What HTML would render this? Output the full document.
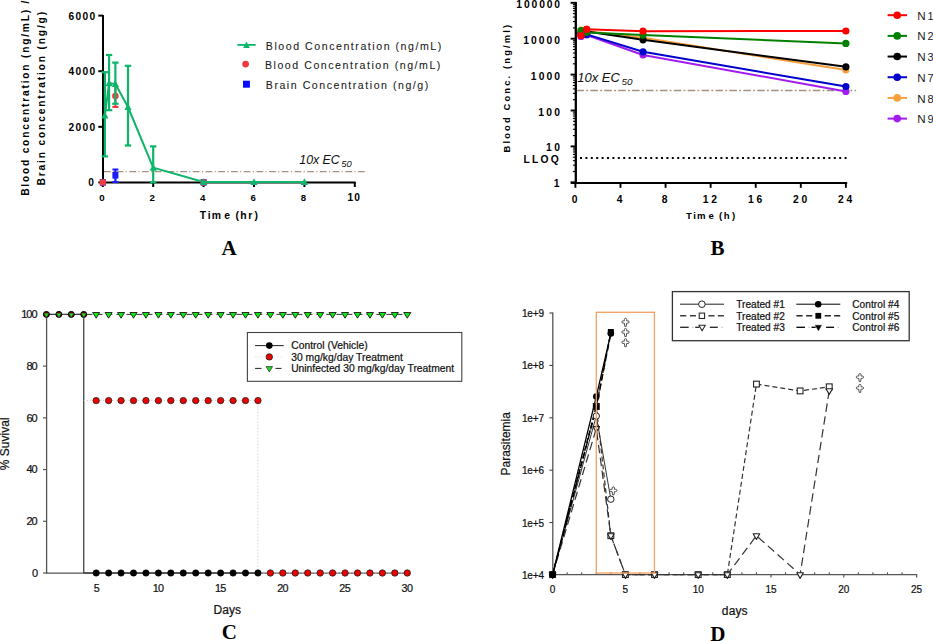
<!DOCTYPE html>
<html><head><meta charset="utf-8"><style>
html,body{margin:0;padding:0;background:#fff;overflow:hidden}
svg{display:block}
</style></head><body>
<svg width="933" height="641" viewBox="0 0 933 641">
<rect width="933" height="641" fill="#fff"/>
<line x1="104" y1="171.6" x2="365" y2="171.6" stroke="#a4917f" stroke-width="1.2" stroke-dasharray="6.7,2.4,1.1,2.5"/>
<line x1="103" y1="15" x2="103" y2="183.4" stroke="#000" stroke-width="2" />
<line x1="102" y1="182.6" x2="355.6" y2="182.6" stroke="#000" stroke-width="2" />
<line x1="98.3" y1="182.4" x2="103" y2="182.4" stroke="#000" stroke-width="2" />
<line x1="98.3" y1="126.80000000000001" x2="103" y2="126.80000000000001" stroke="#000" stroke-width="2" />
<line x1="98.3" y1="71.2" x2="103" y2="71.2" stroke="#000" stroke-width="2" />
<line x1="98.3" y1="15.599999999999994" x2="103" y2="15.599999999999994" stroke="#000" stroke-width="2" />
<line x1="102.8" y1="182" x2="102.8" y2="187" stroke="#000" stroke-width="2" />
<line x1="153.2" y1="182" x2="153.2" y2="187" stroke="#000" stroke-width="2" />
<line x1="203.6" y1="182" x2="203.6" y2="187" stroke="#000" stroke-width="2" />
<line x1="254.0" y1="182" x2="254.0" y2="187" stroke="#000" stroke-width="2" />
<line x1="304.4" y1="182" x2="304.4" y2="187" stroke="#000" stroke-width="2" />
<line x1="354.8" y1="182" x2="354.8" y2="187" stroke="#000" stroke-width="2" />
<text x="68.6" y="19.599999999999994" font-family='"Liberation Sans", sans-serif' font-size="10.2" font-weight="bold" font-style="normal" fill="#000" text-anchor="start" textLength="26.6" lengthAdjust="spacing" >6000</text>
<text x="68.6" y="75.2" font-family='"Liberation Sans", sans-serif' font-size="10.2" font-weight="bold" font-style="normal" fill="#000" text-anchor="start" textLength="26.6" lengthAdjust="spacing" >4000</text>
<text x="68.6" y="130.8" font-family='"Liberation Sans", sans-serif' font-size="10.2" font-weight="bold" font-style="normal" fill="#000" text-anchor="start" textLength="26.6" lengthAdjust="spacing" >2000</text>
<text x="88.3" y="186.4" font-family='"Liberation Sans", sans-serif' font-size="10.2" font-weight="bold" font-style="normal" fill="#000" text-anchor="start" >0</text>
<text x="101.89999999999999" y="201.0" font-family='"Liberation Sans", sans-serif' font-size="9.7" font-weight="bold" font-style="normal" fill="#000" text-anchor="middle" >0</text>
<text x="152.29999999999998" y="201.0" font-family='"Liberation Sans", sans-serif' font-size="9.7" font-weight="bold" font-style="normal" fill="#000" text-anchor="middle" >2</text>
<text x="202.7" y="201.0" font-family='"Liberation Sans", sans-serif' font-size="9.7" font-weight="bold" font-style="normal" fill="#000" text-anchor="middle" >4</text>
<text x="253.1" y="201.0" font-family='"Liberation Sans", sans-serif' font-size="9.7" font-weight="bold" font-style="normal" fill="#000" text-anchor="middle" >6</text>
<text x="303.5" y="201.0" font-family='"Liberation Sans", sans-serif' font-size="9.7" font-weight="bold" font-style="normal" fill="#000" text-anchor="middle" >8</text>
<text x="347.5" y="201.4" font-family='"Liberation Sans", sans-serif' font-size="10.2" font-weight="bold" font-style="normal" fill="#000" text-anchor="start" textLength="12.5" lengthAdjust="spacing" >10</text>
<text x="199.80 207.77 211.72 224.18 235.58 240.17 248.32 254.55" y="218.9" font-family='"Liberation Sans", sans-serif' font-size="10.4" font-weight="bold" fill="#000">Time(hr)</text>
<text x="28.6" y="195.8" font-family='"Liberation Sans", sans-serif' font-size="10.2" font-weight="bold" font-style="normal" fill="#000" text-anchor="start" textLength="195.2" lengthAdjust="spacing" transform="rotate(-90 28.6 195.8)" >Blood concentration (ng/mL) /</text>
<text x="44.8" y="185.4" font-family='"Liberation Sans", sans-serif' font-size="10.2" font-weight="bold" font-style="normal" fill="#000" text-anchor="start" textLength="173.5" lengthAdjust="spacing" transform="rotate(-90 44.8 185.4)" >Brain concentration (ng/g)</text>
<line x1="115.39999999999999" y1="86" x2="115.39999999999999" y2="107" stroke="#f03c3c" stroke-width="2" />
<line x1="112.39999999999999" y1="107" x2="118.39999999999999" y2="107" stroke="#f03c3c" stroke-width="2" />
<line x1="115.39999999999999" y1="169.3" x2="115.39999999999999" y2="182.4" stroke="#1a1aff" stroke-width="2.2" />
<line x1="112.39999999999999" y1="169.5" x2="118.39999999999999" y2="169.5" stroke="#1a1aff" stroke-width="2" />
<line x1="112.39999999999999" y1="182" x2="118.39999999999999" y2="182" stroke="#1a1aff" stroke-width="2" />
<rect x="99.80" y="179.10" width="6.00" height="6.60" fill="#1a1aff" stroke="none" stroke-width="0"/>
<rect x="112.40" y="172.00" width="6.00" height="6.60" fill="#1a1aff" stroke="none" stroke-width="0"/>
<rect x="200.60" y="179.10" width="6.00" height="6.60" fill="#1a1aff" stroke="none" stroke-width="0"/>
<circle cx="102.80" cy="182.40" r="3.3" fill="#f03c3c" stroke="none" stroke-width="0"/>
<circle cx="115.40" cy="96.00" r="3.3" fill="#f03c3c" stroke="none" stroke-width="0"/>
<circle cx="203.60" cy="182.40" r="3.3" fill="#f03c3c" stroke="none" stroke-width="0"/>
<line x1="104.8916" y1="72.2" x2="104.8916" y2="156.4" stroke="#0db56a" stroke-width="2.2" />
<line x1="101.6916" y1="72.2" x2="108.0916" y2="72.2" stroke="#0db56a" stroke-width="2.2" />
<line x1="101.6916" y1="156.4" x2="108.0916" y2="156.4" stroke="#0db56a" stroke-width="2.2" />
<line x1="109.1" y1="55" x2="109.1" y2="110.2" stroke="#0db56a" stroke-width="2.2" />
<line x1="105.89999999999999" y1="55" x2="112.3" y2="55" stroke="#0db56a" stroke-width="2.2" />
<line x1="105.89999999999999" y1="110.2" x2="112.3" y2="110.2" stroke="#0db56a" stroke-width="2.2" />
<line x1="115.39999999999999" y1="62.6" x2="115.39999999999999" y2="103.7" stroke="#0db56a" stroke-width="2.2" />
<line x1="112.19999999999999" y1="62.6" x2="118.6" y2="62.6" stroke="#0db56a" stroke-width="2.2" />
<line x1="112.19999999999999" y1="103.7" x2="118.6" y2="103.7" stroke="#0db56a" stroke-width="2.2" />
<line x1="128.0" y1="65.8" x2="128.0" y2="145.5" stroke="#0db56a" stroke-width="2.2" />
<line x1="124.8" y1="65.8" x2="131.2" y2="65.8" stroke="#0db56a" stroke-width="2.2" />
<line x1="124.8" y1="145.5" x2="131.2" y2="145.5" stroke="#0db56a" stroke-width="2.2" />
<line x1="153.2" y1="146.4" x2="153.2" y2="182.4" stroke="#0db56a" stroke-width="2.2" />
<line x1="150.0" y1="146.4" x2="156.39999999999998" y2="146.4" stroke="#0db56a" stroke-width="2.2" />
<line x1="150.0" y1="182.4" x2="156.39999999999998" y2="182.4" stroke="#0db56a" stroke-width="2.2" />
<polyline points="104.89,115.30 109.10,83.20 115.40,84.00 128.00,107.00 153.20,167.60 203.60,182.00 254.00,182.00 304.40,182.00" fill="none" stroke="#0db56a" stroke-width="2.0" stroke-linejoin="round" />
<polygon points="104.89,111.54 108.49,118.38 101.29,118.38" fill="#0db56a" stroke="none" stroke-width="0" stroke-linejoin="round"/>
<polygon points="109.10,79.44 112.70,86.28 105.50,86.28" fill="#0db56a" stroke="none" stroke-width="0" stroke-linejoin="round"/>
<polygon points="115.40,80.24 119.00,87.08 111.80,87.08" fill="#0db56a" stroke="none" stroke-width="0" stroke-linejoin="round"/>
<polygon points="128.00,103.24 131.60,110.08 124.40,110.08" fill="#0db56a" stroke="none" stroke-width="0" stroke-linejoin="round"/>
<polygon points="153.20,163.84 156.80,170.68 149.60,170.68" fill="#0db56a" stroke="none" stroke-width="0" stroke-linejoin="round"/>
<polygon points="203.60,178.24 207.20,185.08 200.00,185.08" fill="#0db56a" stroke="none" stroke-width="0" stroke-linejoin="round"/>
<polygon points="254.00,178.24 257.60,185.08 250.40,185.08" fill="#0db56a" stroke="none" stroke-width="0" stroke-linejoin="round"/>
<polygon points="304.40,178.24 308.00,185.08 300.80,185.08" fill="#0db56a" stroke="none" stroke-width="0" stroke-linejoin="round"/>
<text font-family='"Liberation Sans", sans-serif' font-style="italic" fill="#111"><tspan x="299.3" y="163.8" font-size="12.4">10x</tspan><tspan x="322.6" y="163.8" font-size="12.4">EC</tspan><tspan x="341.3" y="166.6" font-size="9.4">50</tspan></text>
<line x1="237.4" y1="44.9" x2="255.7" y2="44.9" stroke="#0db56a" stroke-width="1.8" />
<polygon points="246.50,41.60 249.85,47.96 243.15,47.96" fill="#0db56a" stroke="none" stroke-width="0" stroke-linejoin="round"/>
<circle cx="245.60" cy="64.10" r="3.4" fill="#f23a3a" stroke="none" stroke-width="0"/>
<rect x="243.00" y="80.70" width="6.90" height="7.00" fill="#0a0aff" stroke="none" stroke-width="0"/>
<text x="265.8" y="49.7" font-family='"Liberation Sans", sans-serif' font-size="10.6" font-weight="normal" font-style="normal" fill="#1a1a1a" text-anchor="start" textLength="175.5" lengthAdjust="spacing"  stroke="#1a1a1a" stroke-width="0.08">Blood Concentration (ng/mL)</text>
<text x="264.9" y="69.1" font-family='"Liberation Sans", sans-serif' font-size="10.6" font-weight="normal" font-style="normal" fill="#1a1a1a" text-anchor="start" textLength="175.5" lengthAdjust="spacing"  stroke="#1a1a1a" stroke-width="0.08">Blood Concentration (ng/mL)</text>
<text x="265.8" y="89.1" font-family='"Liberation Sans", sans-serif' font-size="10.6" font-weight="normal" font-style="normal" fill="#1a1a1a" text-anchor="start" textLength="162.5" lengthAdjust="spacing"  stroke="#1a1a1a" stroke-width="0.08">Brain Concentration (ng/g)</text>
<text x="221.6" y="254.7" font-family='"Liberation Serif", serif' font-size="21" font-weight="bold" font-style="normal" fill="#000" text-anchor="start" >A</text>
<line x1="576.5" y1="90.5" x2="856" y2="90.5" stroke="#a4917f" stroke-width="1.3" stroke-dasharray="7.5,2.3,1.8,2.3"/>
<line x1="580.0" y1="158.0" x2="846.5" y2="158.0" stroke="#000" stroke-width="2" stroke-dasharray="2,3.4"/>
<line x1="575.8" y1="2" x2="575.8" y2="183.9" stroke="#000" stroke-width="2.3" />
<line x1="570.8" y1="182.9" x2="847.2" y2="182.9" stroke="#000" stroke-width="2.0" />
<line x1="570.6" y1="182.3" x2="576" y2="182.3" stroke="#000" stroke-width="1.9" />
<line x1="572.9" y1="171.49302315566308" x2="576" y2="171.49302315566308" stroke="#000" stroke-width="1.1" />
<line x1="572.9" y1="165.17134695556413" x2="576" y2="165.17134695556413" stroke="#000" stroke-width="1.1" />
<line x1="572.9" y1="160.68604631132615" x2="576" y2="160.68604631132615" stroke="#000" stroke-width="1.1" />
<line x1="572.9" y1="157.20697684433694" x2="576" y2="157.20697684433694" stroke="#000" stroke-width="1.1" />
<line x1="572.9" y1="154.3643701112272" x2="576" y2="154.3643701112272" stroke="#000" stroke-width="1.1" />
<line x1="572.9" y1="151.9609803634882" x2="576" y2="151.9609803634882" stroke="#000" stroke-width="1.1" />
<line x1="572.9" y1="149.87906946698925" x2="576" y2="149.87906946698925" stroke="#000" stroke-width="1.1" />
<line x1="572.9" y1="148.04269391112825" x2="576" y2="148.04269391112825" stroke="#000" stroke-width="1.1" />
<line x1="570.6" y1="146.4" x2="576" y2="146.4" stroke="#000" stroke-width="1.9" />
<line x1="572.9" y1="135.59302315566308" x2="576" y2="135.59302315566308" stroke="#000" stroke-width="1.1" />
<line x1="572.9" y1="129.27134695556413" x2="576" y2="129.27134695556413" stroke="#000" stroke-width="1.1" />
<line x1="572.9" y1="124.78604631132616" x2="576" y2="124.78604631132616" stroke="#000" stroke-width="1.1" />
<line x1="572.9" y1="121.30697684433694" x2="576" y2="121.30697684433694" stroke="#000" stroke-width="1.1" />
<line x1="572.9" y1="118.4643701112272" x2="576" y2="118.4643701112272" stroke="#000" stroke-width="1.1" />
<line x1="572.9" y1="116.06098036348818" x2="576" y2="116.06098036348818" stroke="#000" stroke-width="1.1" />
<line x1="572.9" y1="113.97906946698924" x2="576" y2="113.97906946698924" stroke="#000" stroke-width="1.1" />
<line x1="572.9" y1="112.14269391112826" x2="576" y2="112.14269391112826" stroke="#000" stroke-width="1.1" />
<line x1="570.6" y1="110.50000000000001" x2="576" y2="110.50000000000001" stroke="#000" stroke-width="1.9" />
<line x1="572.9" y1="99.69302315566308" x2="576" y2="99.69302315566308" stroke="#000" stroke-width="1.1" />
<line x1="572.9" y1="93.37134695556412" x2="576" y2="93.37134695556412" stroke="#000" stroke-width="1.1" />
<line x1="572.9" y1="88.88604631132615" x2="576" y2="88.88604631132615" stroke="#000" stroke-width="1.1" />
<line x1="572.9" y1="85.40697684433694" x2="576" y2="85.40697684433694" stroke="#000" stroke-width="1.1" />
<line x1="572.9" y1="82.5643701112272" x2="576" y2="82.5643701112272" stroke="#000" stroke-width="1.1" />
<line x1="572.9" y1="80.16098036348819" x2="576" y2="80.16098036348819" stroke="#000" stroke-width="1.1" />
<line x1="572.9" y1="78.07906946698924" x2="576" y2="78.07906946698924" stroke="#000" stroke-width="1.1" />
<line x1="572.9" y1="76.24269391112826" x2="576" y2="76.24269391112826" stroke="#000" stroke-width="1.1" />
<line x1="570.6" y1="74.60000000000002" x2="576" y2="74.60000000000002" stroke="#000" stroke-width="1.9" />
<line x1="572.9" y1="63.79302315566309" x2="576" y2="63.79302315566309" stroke="#000" stroke-width="1.1" />
<line x1="572.9" y1="57.47134695556413" x2="576" y2="57.47134695556413" stroke="#000" stroke-width="1.1" />
<line x1="572.9" y1="52.98604631132616" x2="576" y2="52.98604631132616" stroke="#000" stroke-width="1.1" />
<line x1="572.9" y1="49.50697684433695" x2="576" y2="49.50697684433695" stroke="#000" stroke-width="1.1" />
<line x1="572.9" y1="46.664370111227214" x2="576" y2="46.664370111227214" stroke="#000" stroke-width="1.1" />
<line x1="572.9" y1="44.26098036348819" x2="576" y2="44.26098036348819" stroke="#000" stroke-width="1.1" />
<line x1="572.9" y1="42.17906946698923" x2="576" y2="42.17906946698923" stroke="#000" stroke-width="1.1" />
<line x1="572.9" y1="40.342693911128265" x2="576" y2="40.342693911128265" stroke="#000" stroke-width="1.1" />
<line x1="570.6" y1="38.70000000000002" x2="576" y2="38.70000000000002" stroke="#000" stroke-width="1.9" />
<line x1="572.9" y1="27.893023155663087" x2="576" y2="27.893023155663087" stroke="#000" stroke-width="1.1" />
<line x1="572.9" y1="21.571346955564138" x2="576" y2="21.571346955564138" stroke="#000" stroke-width="1.1" />
<line x1="572.9" y1="17.086046311326157" x2="576" y2="17.086046311326157" stroke="#000" stroke-width="1.1" />
<line x1="572.9" y1="13.606976844336941" x2="576" y2="13.606976844336941" stroke="#000" stroke-width="1.1" />
<line x1="572.9" y1="10.764370111227208" x2="576" y2="10.764370111227208" stroke="#000" stroke-width="1.1" />
<line x1="572.9" y1="8.360980363488181" x2="576" y2="8.360980363488181" stroke="#000" stroke-width="1.1" />
<line x1="572.9" y1="6.2790694669892275" x2="576" y2="6.2790694669892275" stroke="#000" stroke-width="1.1" />
<line x1="572.9" y1="4.442693911128231" x2="576" y2="4.442693911128231" stroke="#000" stroke-width="1.1" />
<line x1="570.6" y1="2.8000000000000114" x2="576" y2="2.8000000000000114" stroke="#000" stroke-width="1.9" />
<line x1="575.4" y1="182" x2="575.4" y2="187.8" stroke="#000" stroke-width="1.9" />
<line x1="620.48" y1="182" x2="620.48" y2="187.8" stroke="#000" stroke-width="1.9" />
<line x1="665.56" y1="182" x2="665.56" y2="187.8" stroke="#000" stroke-width="1.9" />
<line x1="710.64" y1="182" x2="710.64" y2="187.8" stroke="#000" stroke-width="1.9" />
<line x1="755.72" y1="182" x2="755.72" y2="187.8" stroke="#000" stroke-width="1.9" />
<line x1="800.8" y1="182" x2="800.8" y2="187.8" stroke="#000" stroke-width="1.9" />
<line x1="845.88" y1="182" x2="845.88" y2="187.8" stroke="#000" stroke-width="1.9" />
<text x="553.77" y="187.3" font-family='"Liberation Sans", sans-serif' font-size="10.3" font-weight="bold" font-style="normal" fill="#000" text-anchor="start" >1</text>
<text x="546.05" y="151.4" font-family='"Liberation Sans", sans-serif' font-size="10.3" font-weight="bold" font-style="normal" fill="#000" text-anchor="start" textLength="14.0" lengthAdjust="spacing" >10</text>
<text x="538.35" y="115.50000000000001" font-family='"Liberation Sans", sans-serif' font-size="10.3" font-weight="bold" font-style="normal" fill="#000" text-anchor="start" textLength="21.7" lengthAdjust="spacing" >100</text>
<text x="530.85" y="79.60000000000002" font-family='"Liberation Sans", sans-serif' font-size="10.3" font-weight="bold" font-style="normal" fill="#000" text-anchor="start" textLength="29.2" lengthAdjust="spacing" >1000</text>
<text x="523.15" y="43.70000000000002" font-family='"Liberation Sans", sans-serif' font-size="10.3" font-weight="bold" font-style="normal" fill="#000" text-anchor="start" textLength="36.9" lengthAdjust="spacing" >10000</text>
<text x="516.35" y="7.800000000000011" font-family='"Liberation Sans", sans-serif' font-size="10.3" font-weight="bold" font-style="normal" fill="#000" text-anchor="start" textLength="43.699999999999996" lengthAdjust="spacing" >100000</text>
<text x="523.4" y="162.6" font-family='"Liberation Sans", sans-serif' font-size="10.3" font-weight="bold" font-style="normal" fill="#000" text-anchor="start" textLength="35.3" lengthAdjust="spacing" >LLOQ</text>
<text x="574.5" y="203.3" font-family='"Liberation Sans", sans-serif' font-size="10.3" font-weight="bold" font-style="normal" fill="#000" text-anchor="middle" >0</text>
<text x="619.58" y="203.3" font-family='"Liberation Sans", sans-serif' font-size="10.3" font-weight="bold" font-style="normal" fill="#000" text-anchor="middle" >4</text>
<text x="664.66" y="203.3" font-family='"Liberation Sans", sans-serif' font-size="10.3" font-weight="bold" font-style="normal" fill="#000" text-anchor="middle" >8</text>
<text x="702.84" y="203.3" font-family='"Liberation Sans", sans-serif' font-size="10.3" font-weight="bold" font-style="normal" fill="#000" text-anchor="start" textLength="14.2" lengthAdjust="spacing" >12</text>
<text x="747.9200000000001" y="203.3" font-family='"Liberation Sans", sans-serif' font-size="10.3" font-weight="bold" font-style="normal" fill="#000" text-anchor="start" textLength="14.2" lengthAdjust="spacing" >16</text>
<text x="793.0" y="203.3" font-family='"Liberation Sans", sans-serif' font-size="10.3" font-weight="bold" font-style="normal" fill="#000" text-anchor="start" textLength="14.2" lengthAdjust="spacing" >20</text>
<text x="838.08" y="203.3" font-family='"Liberation Sans", sans-serif' font-size="10.3" font-weight="bold" font-style="normal" fill="#000" text-anchor="start" textLength="14.2" lengthAdjust="spacing" >24</text>
<text x="685.90 693.13 696.88 708.62 719.12 723.63 731.95" y="219.0" font-family='"Liberation Sans", sans-serif' font-size="9.6" font-weight="bold" fill="#000">Time(h)</text>
<text x="510.3" y="152.4" font-family='"Liberation Sans", sans-serif' font-size="9.4" font-weight="bold" font-style="normal" fill="#000" text-anchor="start" textLength="127.5" lengthAdjust="spacing" transform="rotate(-90 510.3 152.4)" >Blood Conc. (ng/ml)</text>
<text font-family='"Liberation Sans", sans-serif' font-style="italic" fill="#111"><tspan x="577.2" y="81.6" font-size="13">10x</tspan><tspan x="601.8" y="81.6" font-size="13">EC</tspan><tspan x="621.6" y="84.6" font-size="9.9">50</tspan></text>
<polyline points="581.03,36.40 586.67,35.00 643.02,55.00 845.88,91.40" fill="none" stroke="#a21cf0" stroke-width="2" stroke-linejoin="round" />
<polyline points="581.03,34.00 586.67,34.40 643.02,51.80 845.88,86.50" fill="none" stroke="#0000cc" stroke-width="2" stroke-linejoin="round" />
<polyline points="581.03,30.00 586.67,31.00 643.02,37.70 845.88,70.00" fill="none" stroke="#f5a03c" stroke-width="2" stroke-linejoin="round" />
<polyline points="581.03,32.50 586.67,31.50 643.02,39.80 845.88,66.80" fill="none" stroke="#000000" stroke-width="2" stroke-linejoin="round" />
<polyline points="581.03,30.60 586.67,32.50 643.02,35.10 845.88,43.40" fill="none" stroke="#008000" stroke-width="2" stroke-linejoin="round" />
<polyline points="581.03,35.50 586.67,29.30 643.02,31.20 845.88,31.00" fill="none" stroke="#ff0000" stroke-width="2" stroke-linejoin="round" />
<circle cx="581.03" cy="36.40" r="3.6" fill="#a21cf0" stroke="none" stroke-width="0"/>
<circle cx="586.67" cy="35.00" r="3.6" fill="#a21cf0" stroke="none" stroke-width="0"/>
<circle cx="643.02" cy="55.00" r="3.6" fill="#a21cf0" stroke="none" stroke-width="0"/>
<circle cx="845.88" cy="91.40" r="3.6" fill="#a21cf0" stroke="none" stroke-width="0"/>
<circle cx="581.03" cy="34.00" r="3.6" fill="#0000cc" stroke="none" stroke-width="0"/>
<circle cx="586.67" cy="34.40" r="3.6" fill="#0000cc" stroke="none" stroke-width="0"/>
<circle cx="643.02" cy="51.80" r="3.6" fill="#0000cc" stroke="none" stroke-width="0"/>
<circle cx="845.88" cy="86.50" r="3.6" fill="#0000cc" stroke="none" stroke-width="0"/>
<circle cx="581.03" cy="30.00" r="3.6" fill="#f5a03c" stroke="none" stroke-width="0"/>
<circle cx="586.67" cy="31.00" r="3.6" fill="#f5a03c" stroke="none" stroke-width="0"/>
<circle cx="643.02" cy="37.70" r="3.6" fill="#f5a03c" stroke="none" stroke-width="0"/>
<circle cx="845.88" cy="70.00" r="3.6" fill="#f5a03c" stroke="none" stroke-width="0"/>
<circle cx="581.03" cy="32.50" r="3.6" fill="#000000" stroke="none" stroke-width="0"/>
<circle cx="586.67" cy="31.50" r="3.6" fill="#000000" stroke="none" stroke-width="0"/>
<circle cx="643.02" cy="39.80" r="3.6" fill="#000000" stroke="none" stroke-width="0"/>
<circle cx="845.88" cy="66.80" r="3.6" fill="#000000" stroke="none" stroke-width="0"/>
<circle cx="581.03" cy="30.60" r="3.6" fill="#008000" stroke="none" stroke-width="0"/>
<circle cx="586.67" cy="32.50" r="3.6" fill="#008000" stroke="none" stroke-width="0"/>
<circle cx="643.02" cy="35.10" r="3.6" fill="#008000" stroke="none" stroke-width="0"/>
<circle cx="845.88" cy="43.40" r="3.6" fill="#008000" stroke="none" stroke-width="0"/>
<circle cx="581.03" cy="35.50" r="3.6" fill="#ff0000" stroke="none" stroke-width="0"/>
<circle cx="586.67" cy="29.30" r="3.6" fill="#ff0000" stroke="none" stroke-width="0"/>
<circle cx="643.02" cy="31.20" r="3.6" fill="#ff0000" stroke="none" stroke-width="0"/>
<circle cx="845.88" cy="31.00" r="3.6" fill="#ff0000" stroke="none" stroke-width="0"/>
<circle cx="581.03" cy="35.50" r="3.6" fill="#ff0000" stroke="none" stroke-width="0"/>
<circle cx="586.67" cy="29.30" r="3.6" fill="#ff0000" stroke="none" stroke-width="0"/>
<line x1="887.6" y1="15.2" x2="907" y2="15.2" stroke="#ff0000" stroke-width="2" />
<circle cx="897.20" cy="15.20" r="3.8" fill="#ff0000" stroke="none" stroke-width="0"/>
<text y="19.80" font-family='"Liberation Sans", sans-serif' font-size="11" fill="#1a1a1a"><tspan x="917.2" font-size="11.6">N</tspan><tspan x="927.4">1</tspan></text>
<line x1="887.6" y1="35.879999999999995" x2="907" y2="35.879999999999995" stroke="#008000" stroke-width="2" />
<circle cx="897.20" cy="35.88" r="3.8" fill="#008000" stroke="none" stroke-width="0"/>
<text y="40.48" font-family='"Liberation Sans", sans-serif' font-size="11" fill="#1a1a1a"><tspan x="917.2" font-size="11.6">N</tspan><tspan x="927.4">2</tspan></text>
<line x1="887.6" y1="56.56" x2="907" y2="56.56" stroke="#000000" stroke-width="2" />
<circle cx="897.20" cy="56.56" r="3.8" fill="#000000" stroke="none" stroke-width="0"/>
<text y="61.16" font-family='"Liberation Sans", sans-serif' font-size="11" fill="#1a1a1a"><tspan x="917.2" font-size="11.6">N</tspan><tspan x="927.4">3</tspan></text>
<line x1="887.6" y1="77.24" x2="907" y2="77.24" stroke="#0000cc" stroke-width="2" />
<circle cx="897.20" cy="77.24" r="3.8" fill="#0000cc" stroke="none" stroke-width="0"/>
<text y="81.84" font-family='"Liberation Sans", sans-serif' font-size="11" fill="#1a1a1a"><tspan x="917.2" font-size="11.6">N</tspan><tspan x="927.4">7</tspan></text>
<line x1="887.6" y1="97.92" x2="907" y2="97.92" stroke="#f5a03c" stroke-width="2" />
<circle cx="897.20" cy="97.92" r="3.8" fill="#f5a03c" stroke="none" stroke-width="0"/>
<text y="102.52" font-family='"Liberation Sans", sans-serif' font-size="11" fill="#1a1a1a"><tspan x="917.2" font-size="11.6">N</tspan><tspan x="927.4">8</tspan></text>
<line x1="887.6" y1="118.60000000000001" x2="907" y2="118.60000000000001" stroke="#a21cf0" stroke-width="2" />
<circle cx="897.20" cy="118.60" r="3.8" fill="#a21cf0" stroke="none" stroke-width="0"/>
<text y="123.20" font-family='"Liberation Sans", sans-serif' font-size="11" fill="#1a1a1a"><tspan x="917.2" font-size="11.6">N</tspan><tspan x="927.4">9</tspan></text>
<text x="710.6" y="254.9" font-family='"Liberation Serif", serif' font-size="21" font-weight="bold" font-style="normal" fill="#000" text-anchor="start" >B</text>
<line x1="46.6" y1="314" x2="46.6" y2="573.5" stroke="#555" stroke-width="1.3" />
<line x1="46" y1="573.2" x2="407.6" y2="573.2" stroke="#555" stroke-width="1.3" />
<line x1="43" y1="573.0" x2="46.6" y2="573.0" stroke="#555" stroke-width="1.2" />
<text x="32.0" y="576.9" font-family='"Liberation Sans", sans-serif' font-size="11" font-weight="normal" font-style="normal" fill="#111" text-anchor="start" textLength="5.6" lengthAdjust="spacing"  stroke="#111" stroke-width="0.22">0</text>
<line x1="43" y1="521.28" x2="46.6" y2="521.28" stroke="#555" stroke-width="1.2" />
<text x="26.5" y="525.18" font-family='"Liberation Sans", sans-serif' font-size="11" font-weight="normal" font-style="normal" fill="#111" text-anchor="start" textLength="11.1" lengthAdjust="spacing"  stroke="#111" stroke-width="0.22">20</text>
<line x1="43" y1="469.56" x2="46.6" y2="469.56" stroke="#555" stroke-width="1.2" />
<text x="26.5" y="473.46" font-family='"Liberation Sans", sans-serif' font-size="11" font-weight="normal" font-style="normal" fill="#111" text-anchor="start" textLength="11.1" lengthAdjust="spacing"  stroke="#111" stroke-width="0.22">40</text>
<line x1="43" y1="417.84000000000003" x2="46.6" y2="417.84000000000003" stroke="#555" stroke-width="1.2" />
<text x="26.5" y="421.74" font-family='"Liberation Sans", sans-serif' font-size="11" font-weight="normal" font-style="normal" fill="#111" text-anchor="start" textLength="11.1" lengthAdjust="spacing"  stroke="#111" stroke-width="0.22">60</text>
<line x1="43" y1="366.12" x2="46.6" y2="366.12" stroke="#555" stroke-width="1.2" />
<text x="26.5" y="370.02" font-family='"Liberation Sans", sans-serif' font-size="11" font-weight="normal" font-style="normal" fill="#111" text-anchor="start" textLength="11.1" lengthAdjust="spacing"  stroke="#111" stroke-width="0.22">80</text>
<line x1="43" y1="314.40000000000003" x2="46.6" y2="314.40000000000003" stroke="#555" stroke-width="1.2" />
<text x="21.200000000000003" y="318.3" font-family='"Liberation Sans", sans-serif' font-size="11" font-weight="normal" font-style="normal" fill="#111" text-anchor="start" textLength="16.4" lengthAdjust="spacing"  stroke="#111" stroke-width="0.22">100</text>
<text x="93.626" y="591.7" font-family='"Liberation Sans", sans-serif' font-size="10.8" font-weight="normal" font-style="normal" fill="#111" text-anchor="start" textLength="5.7" lengthAdjust="spacing"  stroke="#111" stroke-width="0.22">5</text>
<text x="152.69600000000003" y="591.7" font-family='"Liberation Sans", sans-serif' font-size="10.8" font-weight="normal" font-style="normal" fill="#111" text-anchor="start" textLength="11.4" lengthAdjust="spacing"  stroke="#111" stroke-width="0.22">10</text>
<text x="214.91600000000003" y="591.7" font-family='"Liberation Sans", sans-serif' font-size="10.8" font-weight="normal" font-style="normal" fill="#111" text-anchor="start" textLength="11.4" lengthAdjust="spacing"  stroke="#111" stroke-width="0.22">15</text>
<text x="277.136" y="591.7" font-family='"Liberation Sans", sans-serif' font-size="10.8" font-weight="normal" font-style="normal" fill="#111" text-anchor="start" textLength="11.4" lengthAdjust="spacing"  stroke="#111" stroke-width="0.22">20</text>
<text x="339.356" y="591.7" font-family='"Liberation Sans", sans-serif' font-size="10.8" font-weight="normal" font-style="normal" fill="#111" text-anchor="start" textLength="11.4" lengthAdjust="spacing"  stroke="#111" stroke-width="0.22">25</text>
<text x="401.576" y="591.7" font-family='"Liberation Sans", sans-serif' font-size="10.8" font-weight="normal" font-style="normal" fill="#111" text-anchor="start" textLength="11.4" lengthAdjust="spacing"  stroke="#111" stroke-width="0.22">30</text>
<text x="213.6" y="613.8" font-family='"Liberation Sans", sans-serif' font-size="12" font-weight="normal" font-style="normal" fill="#111" text-anchor="start" textLength="27.5" lengthAdjust="spacing"  stroke="#111" stroke-width="0.22">Days</text>
<text x="9.3" y="470.2" font-family='"Liberation Sans", sans-serif' font-size="12" font-weight="normal" font-style="normal" fill="#111" text-anchor="start" textLength="52.8" lengthAdjust="spacing" transform="rotate(-90 9.3 470.2)"  stroke="#111" stroke-width="0.22">% Suvival</text>
<polyline points="46.40,314.40 83.73,314.40 83.73,573.00 257.95,573.00" fill="none" stroke="#444" stroke-width="1.3" stroke-linejoin="round" />
<polyline points="83.73,400.59 257.95,400.59 257.95,573.00 407.28,573.00" fill="none" stroke="#cfcfcf" stroke-width="1" stroke-linejoin="round" stroke-dasharray="1.2,2"/>
<line x1="46.4" y1="314.40000000000003" x2="407.276" y2="314.40000000000003" stroke="#333" stroke-width="1" stroke-dasharray="6,4"/>
<circle cx="46.40" cy="314.40" r="3.0" fill="#6a0000" stroke="#000" stroke-width="1.0"/>
<circle cx="58.84" cy="314.40" r="3.0" fill="#6a0000" stroke="#000" stroke-width="1.0"/>
<circle cx="71.29" cy="314.40" r="3.0" fill="#6a0000" stroke="#000" stroke-width="1.0"/>
<circle cx="83.73" cy="314.40" r="3.0" fill="#6a0000" stroke="#000" stroke-width="1.0"/>
<circle cx="96.18" cy="400.59" r="3.2" fill="#ee0000" stroke="#222" stroke-width="0.8"/>
<circle cx="96.18" cy="573.00" r="3.2" fill="#000" stroke="#000" stroke-width="0.5"/>
<circle cx="108.62" cy="400.59" r="3.2" fill="#ee0000" stroke="#222" stroke-width="0.8"/>
<circle cx="108.62" cy="573.00" r="3.2" fill="#000" stroke="#000" stroke-width="0.5"/>
<circle cx="121.06" cy="400.59" r="3.2" fill="#ee0000" stroke="#222" stroke-width="0.8"/>
<circle cx="121.06" cy="573.00" r="3.2" fill="#000" stroke="#000" stroke-width="0.5"/>
<circle cx="133.51" cy="400.59" r="3.2" fill="#ee0000" stroke="#222" stroke-width="0.8"/>
<circle cx="133.51" cy="573.00" r="3.2" fill="#000" stroke="#000" stroke-width="0.5"/>
<circle cx="145.95" cy="400.59" r="3.2" fill="#ee0000" stroke="#222" stroke-width="0.8"/>
<circle cx="145.95" cy="573.00" r="3.2" fill="#000" stroke="#000" stroke-width="0.5"/>
<circle cx="158.40" cy="400.59" r="3.2" fill="#ee0000" stroke="#222" stroke-width="0.8"/>
<circle cx="158.40" cy="573.00" r="3.2" fill="#000" stroke="#000" stroke-width="0.5"/>
<circle cx="170.84" cy="400.59" r="3.2" fill="#ee0000" stroke="#222" stroke-width="0.8"/>
<circle cx="170.84" cy="573.00" r="3.2" fill="#000" stroke="#000" stroke-width="0.5"/>
<circle cx="183.28" cy="400.59" r="3.2" fill="#ee0000" stroke="#222" stroke-width="0.8"/>
<circle cx="183.28" cy="573.00" r="3.2" fill="#000" stroke="#000" stroke-width="0.5"/>
<circle cx="195.73" cy="400.59" r="3.2" fill="#ee0000" stroke="#222" stroke-width="0.8"/>
<circle cx="195.73" cy="573.00" r="3.2" fill="#000" stroke="#000" stroke-width="0.5"/>
<circle cx="208.17" cy="400.59" r="3.2" fill="#ee0000" stroke="#222" stroke-width="0.8"/>
<circle cx="208.17" cy="573.00" r="3.2" fill="#000" stroke="#000" stroke-width="0.5"/>
<circle cx="220.62" cy="400.59" r="3.2" fill="#ee0000" stroke="#222" stroke-width="0.8"/>
<circle cx="220.62" cy="573.00" r="3.2" fill="#000" stroke="#000" stroke-width="0.5"/>
<circle cx="233.06" cy="400.59" r="3.2" fill="#ee0000" stroke="#222" stroke-width="0.8"/>
<circle cx="233.06" cy="573.00" r="3.2" fill="#000" stroke="#000" stroke-width="0.5"/>
<circle cx="245.50" cy="400.59" r="3.2" fill="#ee0000" stroke="#222" stroke-width="0.8"/>
<circle cx="245.50" cy="573.00" r="3.2" fill="#000" stroke="#000" stroke-width="0.5"/>
<circle cx="257.95" cy="400.59" r="3.2" fill="#ee0000" stroke="#222" stroke-width="0.8"/>
<circle cx="257.95" cy="573.00" r="3.2" fill="#000" stroke="#000" stroke-width="0.5"/>
<circle cx="270.39" cy="573.00" r="3.2" fill="#ee0000" stroke="#222" stroke-width="0.8"/>
<circle cx="282.84" cy="573.00" r="3.2" fill="#ee0000" stroke="#222" stroke-width="0.8"/>
<circle cx="295.28" cy="573.00" r="3.2" fill="#ee0000" stroke="#222" stroke-width="0.8"/>
<circle cx="307.72" cy="573.00" r="3.2" fill="#ee0000" stroke="#222" stroke-width="0.8"/>
<circle cx="320.17" cy="573.00" r="3.2" fill="#ee0000" stroke="#222" stroke-width="0.8"/>
<circle cx="332.61" cy="573.00" r="3.2" fill="#ee0000" stroke="#222" stroke-width="0.8"/>
<circle cx="345.06" cy="573.00" r="3.2" fill="#ee0000" stroke="#222" stroke-width="0.8"/>
<circle cx="357.50" cy="573.00" r="3.2" fill="#ee0000" stroke="#222" stroke-width="0.8"/>
<circle cx="369.94" cy="573.00" r="3.2" fill="#ee0000" stroke="#222" stroke-width="0.8"/>
<circle cx="382.39" cy="573.00" r="3.2" fill="#ee0000" stroke="#222" stroke-width="0.8"/>
<circle cx="394.83" cy="573.00" r="3.2" fill="#ee0000" stroke="#222" stroke-width="0.8"/>
<circle cx="407.28" cy="573.00" r="3.2" fill="#ee0000" stroke="#222" stroke-width="0.8"/>
<polygon points="92.63,312.50 99.73,312.50 96.18,318.20" fill="#10e810" stroke="#1a1a1a" stroke-width="0.9" stroke-linejoin="round"/>
<polygon points="105.07,312.50 112.17,312.50 108.62,318.20" fill="#10e810" stroke="#1a1a1a" stroke-width="0.9" stroke-linejoin="round"/>
<polygon points="117.51,312.50 124.61,312.50 121.06,318.20" fill="#10e810" stroke="#1a1a1a" stroke-width="0.9" stroke-linejoin="round"/>
<polygon points="129.96,312.50 137.06,312.50 133.51,318.20" fill="#10e810" stroke="#1a1a1a" stroke-width="0.9" stroke-linejoin="round"/>
<polygon points="142.40,312.50 149.50,312.50 145.95,318.20" fill="#10e810" stroke="#1a1a1a" stroke-width="0.9" stroke-linejoin="round"/>
<polygon points="154.85,312.50 161.95,312.50 158.40,318.20" fill="#10e810" stroke="#1a1a1a" stroke-width="0.9" stroke-linejoin="round"/>
<polygon points="167.29,312.50 174.39,312.50 170.84,318.20" fill="#10e810" stroke="#1a1a1a" stroke-width="0.9" stroke-linejoin="round"/>
<polygon points="179.73,312.50 186.83,312.50 183.28,318.20" fill="#10e810" stroke="#1a1a1a" stroke-width="0.9" stroke-linejoin="round"/>
<polygon points="192.18,312.50 199.28,312.50 195.73,318.20" fill="#10e810" stroke="#1a1a1a" stroke-width="0.9" stroke-linejoin="round"/>
<polygon points="204.62,312.50 211.72,312.50 208.17,318.20" fill="#10e810" stroke="#1a1a1a" stroke-width="0.9" stroke-linejoin="round"/>
<polygon points="217.07,312.50 224.17,312.50 220.62,318.20" fill="#10e810" stroke="#1a1a1a" stroke-width="0.9" stroke-linejoin="round"/>
<polygon points="229.51,312.50 236.61,312.50 233.06,318.20" fill="#10e810" stroke="#1a1a1a" stroke-width="0.9" stroke-linejoin="round"/>
<polygon points="241.95,312.50 249.05,312.50 245.50,318.20" fill="#10e810" stroke="#1a1a1a" stroke-width="0.9" stroke-linejoin="round"/>
<polygon points="254.40,312.50 261.50,312.50 257.95,318.20" fill="#10e810" stroke="#1a1a1a" stroke-width="0.9" stroke-linejoin="round"/>
<polygon points="266.84,312.50 273.94,312.50 270.39,318.20" fill="#10e810" stroke="#1a1a1a" stroke-width="0.9" stroke-linejoin="round"/>
<polygon points="279.29,312.50 286.39,312.50 282.84,318.20" fill="#10e810" stroke="#1a1a1a" stroke-width="0.9" stroke-linejoin="round"/>
<polygon points="291.73,312.50 298.83,312.50 295.28,318.20" fill="#10e810" stroke="#1a1a1a" stroke-width="0.9" stroke-linejoin="round"/>
<polygon points="304.17,312.50 311.27,312.50 307.72,318.20" fill="#10e810" stroke="#1a1a1a" stroke-width="0.9" stroke-linejoin="round"/>
<polygon points="316.62,312.50 323.72,312.50 320.17,318.20" fill="#10e810" stroke="#1a1a1a" stroke-width="0.9" stroke-linejoin="round"/>
<polygon points="329.06,312.50 336.16,312.50 332.61,318.20" fill="#10e810" stroke="#1a1a1a" stroke-width="0.9" stroke-linejoin="round"/>
<polygon points="341.51,312.50 348.61,312.50 345.06,318.20" fill="#10e810" stroke="#1a1a1a" stroke-width="0.9" stroke-linejoin="round"/>
<polygon points="353.95,312.50 361.05,312.50 357.50,318.20" fill="#10e810" stroke="#1a1a1a" stroke-width="0.9" stroke-linejoin="round"/>
<polygon points="366.39,312.50 373.49,312.50 369.94,318.20" fill="#10e810" stroke="#1a1a1a" stroke-width="0.9" stroke-linejoin="round"/>
<polygon points="378.84,312.50 385.94,312.50 382.39,318.20" fill="#10e810" stroke="#1a1a1a" stroke-width="0.9" stroke-linejoin="round"/>
<polygon points="391.28,312.50 398.38,312.50 394.83,318.20" fill="#10e810" stroke="#1a1a1a" stroke-width="0.9" stroke-linejoin="round"/>
<polygon points="403.73,312.50 410.83,312.50 407.28,318.20" fill="#10e810" stroke="#1a1a1a" stroke-width="0.9" stroke-linejoin="round"/>
<polygon points="43.90,313.17 48.90,313.17 46.40,317.47" fill="#1ee01e" stroke="#333" stroke-width="0.4" stroke-linejoin="round"/>
<polygon points="56.34,313.17 61.34,313.17 58.84,317.47" fill="#1ee01e" stroke="#333" stroke-width="0.4" stroke-linejoin="round"/>
<polygon points="68.79,313.17 73.79,313.17 71.29,317.47" fill="#1ee01e" stroke="#333" stroke-width="0.4" stroke-linejoin="round"/>
<polygon points="81.23,313.17 86.23,313.17 83.73,317.47" fill="#1ee01e" stroke="#333" stroke-width="0.4" stroke-linejoin="round"/>
<rect x="247.40" y="332.50" width="214.40" height="48.80" fill="#fff" stroke="#444" stroke-width="1.1"/>
<line x1="255.1" y1="345.6" x2="283.7" y2="345.6" stroke="#222" stroke-width="1" />
<circle cx="269.30" cy="345.60" r="3.3" fill="#000" stroke="none" stroke-width="0"/>
<line x1="255.1" y1="356.9" x2="283.7" y2="356.9" stroke="#ddd" stroke-width="1" stroke-dasharray="1.2,2"/>
<circle cx="269.30" cy="356.90" r="3.2" fill="#ee0000" stroke="#222" stroke-width="0.8"/>
<line x1="255.1" y1="368.4" x2="261.5" y2="368.4" stroke="#222" stroke-width="1" />
<line x1="275.5" y1="368.4" x2="281.5" y2="368.4" stroke="#222" stroke-width="1" />
<polygon points="266.05,366.62 272.55,366.62 269.30,371.95" fill="#1ee01e" stroke="#222" stroke-width="0.7" stroke-linejoin="round"/>
<text x="291.2" y="349.2" font-family='"Liberation Sans", sans-serif' font-size="10.3" font-weight="normal" font-style="normal" fill="#111" text-anchor="start" textLength="76.5" lengthAdjust="spacing"  stroke="#111" stroke-width="0.22">Control (Vehicle)</text>
<text x="291.2" y="360.6" font-family='"Liberation Sans", sans-serif' font-size="10.3" font-weight="normal" font-style="normal" fill="#111" text-anchor="start" textLength="111.6" lengthAdjust="spacing"  stroke="#111" stroke-width="0.22">30 mg/kg/day Treatment</text>
<text x="291.2" y="372.2" font-family='"Liberation Sans", sans-serif' font-size="10.3" font-weight="normal" font-style="normal" fill="#111" text-anchor="start" textLength="162.8" lengthAdjust="spacing"  stroke="#111" stroke-width="0.22">Uninfected 30 mg/kg/day Treatment</text>
<text x="221.7" y="639.3" font-family='"Liberation Serif", serif' font-size="21" font-weight="bold" font-style="normal" fill="#000" text-anchor="start" >C</text>
<line x1="552.8" y1="312.5" x2="552.8" y2="575" stroke="#555" stroke-width="1.3" />
<line x1="552.2" y1="574.6" x2="917.2" y2="574.6" stroke="#555" stroke-width="1.3" />
<line x1="549.4" y1="575.0" x2="552.8" y2="575.0" stroke="#333" stroke-width="1.0" />
<text x="521.9" y="578.9" font-family='"Liberation Sans", sans-serif' font-size="10" font-weight="normal" font-style="normal" fill="#111" text-anchor="start" textLength="22.2" lengthAdjust="spacing"  stroke="#111" stroke-width="0.22">1e+4</text>
<line x1="549.4" y1="522.6" x2="552.8" y2="522.6" stroke="#333" stroke-width="1.0" />
<text x="521.9" y="526.5" font-family='"Liberation Sans", sans-serif' font-size="10" font-weight="normal" font-style="normal" fill="#111" text-anchor="start" textLength="22.2" lengthAdjust="spacing"  stroke="#111" stroke-width="0.22">1e+5</text>
<line x1="549.4" y1="470.2" x2="552.8" y2="470.2" stroke="#333" stroke-width="1.0" />
<text x="521.9" y="474.1" font-family='"Liberation Sans", sans-serif' font-size="10" font-weight="normal" font-style="normal" fill="#111" text-anchor="start" textLength="22.2" lengthAdjust="spacing"  stroke="#111" stroke-width="0.22">1e+6</text>
<line x1="549.4" y1="417.8" x2="552.8" y2="417.8" stroke="#333" stroke-width="1.0" />
<text x="521.9" y="421.70000000000005" font-family='"Liberation Sans", sans-serif' font-size="10" font-weight="normal" font-style="normal" fill="#111" text-anchor="start" textLength="22.2" lengthAdjust="spacing"  stroke="#111" stroke-width="0.22">1e+7</text>
<line x1="549.4" y1="365.4" x2="552.8" y2="365.4" stroke="#333" stroke-width="1.0" />
<text x="521.9" y="369.3" font-family='"Liberation Sans", sans-serif' font-size="10" font-weight="normal" font-style="normal" fill="#111" text-anchor="start" textLength="22.2" lengthAdjust="spacing"  stroke="#111" stroke-width="0.22">1e+8</text>
<line x1="549.4" y1="313.0" x2="552.8" y2="313.0" stroke="#333" stroke-width="1.0" />
<text x="521.9" y="316.90000000000003" font-family='"Liberation Sans", sans-serif' font-size="10" font-weight="normal" font-style="normal" fill="#111" text-anchor="start" textLength="22.2" lengthAdjust="spacing"  stroke="#111" stroke-width="0.22">1e+9</text>
<line x1="552.6" y1="574" x2="552.6" y2="577.5" stroke="#555" stroke-width="1.2" />
<line x1="567.16" y1="572.3" x2="567.16" y2="574.6" stroke="#555" stroke-width="1.1" />
<line x1="581.72" y1="572.3" x2="581.72" y2="574.6" stroke="#555" stroke-width="1.1" />
<line x1="596.28" y1="572.3" x2="596.28" y2="574.6" stroke="#555" stroke-width="1.1" />
<line x1="610.84" y1="572.3" x2="610.84" y2="574.6" stroke="#555" stroke-width="1.1" />
<line x1="625.4" y1="574" x2="625.4" y2="577.5" stroke="#555" stroke-width="1.2" />
<line x1="639.96" y1="572.3" x2="639.96" y2="574.6" stroke="#555" stroke-width="1.1" />
<line x1="654.52" y1="572.3" x2="654.52" y2="574.6" stroke="#555" stroke-width="1.1" />
<line x1="669.08" y1="572.3" x2="669.08" y2="574.6" stroke="#555" stroke-width="1.1" />
<line x1="683.64" y1="572.3" x2="683.64" y2="574.6" stroke="#555" stroke-width="1.1" />
<line x1="698.2" y1="574" x2="698.2" y2="577.5" stroke="#555" stroke-width="1.2" />
<line x1="712.76" y1="572.3" x2="712.76" y2="574.6" stroke="#555" stroke-width="1.1" />
<line x1="727.32" y1="572.3" x2="727.32" y2="574.6" stroke="#555" stroke-width="1.1" />
<line x1="741.88" y1="572.3" x2="741.88" y2="574.6" stroke="#555" stroke-width="1.1" />
<line x1="756.44" y1="572.3" x2="756.44" y2="574.6" stroke="#555" stroke-width="1.1" />
<line x1="771.0" y1="574" x2="771.0" y2="577.5" stroke="#555" stroke-width="1.2" />
<line x1="785.5600000000001" y1="572.3" x2="785.5600000000001" y2="574.6" stroke="#555" stroke-width="1.1" />
<line x1="800.12" y1="572.3" x2="800.12" y2="574.6" stroke="#555" stroke-width="1.1" />
<line x1="814.6800000000001" y1="572.3" x2="814.6800000000001" y2="574.6" stroke="#555" stroke-width="1.1" />
<line x1="829.24" y1="572.3" x2="829.24" y2="574.6" stroke="#555" stroke-width="1.1" />
<line x1="843.8" y1="574" x2="843.8" y2="577.5" stroke="#555" stroke-width="1.2" />
<line x1="858.36" y1="572.3" x2="858.36" y2="574.6" stroke="#555" stroke-width="1.1" />
<line x1="872.9200000000001" y1="572.3" x2="872.9200000000001" y2="574.6" stroke="#555" stroke-width="1.1" />
<line x1="887.48" y1="572.3" x2="887.48" y2="574.6" stroke="#555" stroke-width="1.1" />
<line x1="902.04" y1="572.3" x2="902.04" y2="574.6" stroke="#555" stroke-width="1.1" />
<line x1="916.6" y1="574" x2="916.6" y2="577.5" stroke="#555" stroke-width="1.2" />
<text x="552.6" y="593" font-family='"Liberation Sans", sans-serif' font-size="10" font-weight="normal" font-style="normal" fill="#111" text-anchor="middle"  stroke="#111" stroke-width="0.22">0</text>
<text x="625.4" y="593" font-family='"Liberation Sans", sans-serif' font-size="10" font-weight="normal" font-style="normal" fill="#111" text-anchor="middle"  stroke="#111" stroke-width="0.22">5</text>
<text x="698.2" y="593" font-family='"Liberation Sans", sans-serif' font-size="10" font-weight="normal" font-style="normal" fill="#111" text-anchor="middle"  stroke="#111" stroke-width="0.22">10</text>
<text x="771.0" y="593" font-family='"Liberation Sans", sans-serif' font-size="10" font-weight="normal" font-style="normal" fill="#111" text-anchor="middle"  stroke="#111" stroke-width="0.22">15</text>
<text x="843.8" y="593" font-family='"Liberation Sans", sans-serif' font-size="10" font-weight="normal" font-style="normal" fill="#111" text-anchor="middle"  stroke="#111" stroke-width="0.22">20</text>
<text x="916.6" y="593" font-family='"Liberation Sans", sans-serif' font-size="10" font-weight="normal" font-style="normal" fill="#111" text-anchor="middle"  stroke="#111" stroke-width="0.22">25</text>
<text x="721.8" y="615.4" font-family='"Liberation Sans", sans-serif' font-size="12" font-weight="normal" font-style="normal" fill="#111" text-anchor="start" textLength="25.8" lengthAdjust="spacing"  stroke="#111" stroke-width="0.22">days</text>
<text x="510.3" y="475.6" font-family='"Liberation Sans", sans-serif' font-size="12" font-weight="normal" font-style="normal" fill="#111" text-anchor="start" textLength="63.6" lengthAdjust="spacing" transform="rotate(-90 510.3 475.6)"  stroke="#111" stroke-width="0.22">Parasitemia</text>
<polyline points="552.60,574.60 596.28,416.00 610.84,499.20" fill="none" stroke="#333" stroke-width="1" stroke-linejoin="round" />
<polyline points="552.60,574.60 596.28,406.50 610.84,535.70 625.40,574.60 654.52,574.60 698.20,574.60 727.32,574.60 756.44,384.10 800.12,390.90 829.24,386.80" fill="none" stroke="#333" stroke-width="1.2" stroke-linejoin="round" stroke-dasharray="5,3"/>
<polyline points="552.60,574.60 596.28,428.50 610.84,535.70 625.40,574.60 654.52,574.60 698.20,574.60 727.32,574.60 756.44,535.70 800.12,574.60 829.24,390.60" fill="none" stroke="#333" stroke-width="1.2" stroke-linejoin="round" stroke-dasharray="8.5,4.5"/>
<polyline points="552.60,574.60 596.28,396.60 610.84,333.50" fill="none" stroke="#000" stroke-width="1.3" stroke-linejoin="round" />
<polyline points="552.60,574.60 596.28,406.40 610.84,332.00" fill="none" stroke="#000" stroke-width="1.3" stroke-linejoin="round" stroke-dasharray="5,3"/>
<polyline points="552.60,574.60 596.28,408.00 610.84,333.50" fill="none" stroke="#000" stroke-width="1.3" stroke-linejoin="round" stroke-dasharray="7,3"/>
<rect x="549.70" y="571.70" width="5.80" height="5.80" fill="#fff" stroke="#222" stroke-width="1.1"/>
<rect x="593.38" y="403.60" width="5.80" height="5.80" fill="#fff" stroke="#222" stroke-width="1.1"/>
<rect x="607.94" y="532.80" width="5.80" height="5.80" fill="#fff" stroke="#222" stroke-width="1.1"/>
<rect x="622.50" y="571.70" width="5.80" height="5.80" fill="#fff" stroke="#222" stroke-width="1.1"/>
<rect x="651.62" y="571.70" width="5.80" height="5.80" fill="#fff" stroke="#222" stroke-width="1.1"/>
<rect x="695.30" y="571.70" width="5.80" height="5.80" fill="#fff" stroke="#222" stroke-width="1.1"/>
<rect x="724.42" y="571.70" width="5.80" height="5.80" fill="#fff" stroke="#222" stroke-width="1.1"/>
<rect x="753.54" y="381.20" width="5.80" height="5.80" fill="#fff" stroke="#222" stroke-width="1.1"/>
<rect x="797.22" y="388.00" width="5.80" height="5.80" fill="#fff" stroke="#222" stroke-width="1.1"/>
<rect x="826.34" y="383.90" width="5.80" height="5.80" fill="#fff" stroke="#222" stroke-width="1.1"/>
<polygon points="549.30,572.70 555.90,572.70 552.60,578.40" fill="#fff" stroke="#222" stroke-width="1.1" stroke-linejoin="round"/>
<polygon points="592.98,426.60 599.58,426.60 596.28,432.30" fill="#fff" stroke="#222" stroke-width="1.1" stroke-linejoin="round"/>
<polygon points="607.54,533.80 614.14,533.80 610.84,539.50" fill="#fff" stroke="#222" stroke-width="1.1" stroke-linejoin="round"/>
<polygon points="622.10,572.70 628.70,572.70 625.40,578.40" fill="#fff" stroke="#222" stroke-width="1.1" stroke-linejoin="round"/>
<polygon points="651.22,572.70 657.82,572.70 654.52,578.40" fill="#fff" stroke="#222" stroke-width="1.1" stroke-linejoin="round"/>
<polygon points="694.90,572.70 701.50,572.70 698.20,578.40" fill="#fff" stroke="#222" stroke-width="1.1" stroke-linejoin="round"/>
<polygon points="724.02,572.70 730.62,572.70 727.32,578.40" fill="#fff" stroke="#222" stroke-width="1.1" stroke-linejoin="round"/>
<polygon points="753.14,533.80 759.74,533.80 756.44,539.50" fill="#fff" stroke="#222" stroke-width="1.1" stroke-linejoin="round"/>
<polygon points="796.82,572.70 803.42,572.70 800.12,578.40" fill="#fff" stroke="#222" stroke-width="1.1" stroke-linejoin="round"/>
<polygon points="825.94,388.70 832.54,388.70 829.24,394.40" fill="#fff" stroke="#222" stroke-width="1.1" stroke-linejoin="round"/>
<circle cx="552.60" cy="574.60" r="3.2" fill="#fff" stroke="#222" stroke-width="1"/>
<circle cx="596.28" cy="416.00" r="3.2" fill="#fff" stroke="#222" stroke-width="1"/>
<circle cx="610.84" cy="499.20" r="3.2" fill="#fff" stroke="#222" stroke-width="1"/>
<circle cx="552.60" cy="574.60" r="3.3" fill="#000" stroke="none" stroke-width="0"/>
<circle cx="596.28" cy="396.60" r="3.3" fill="#000" stroke="none" stroke-width="0"/>
<circle cx="610.84" cy="333.50" r="3.3" fill="#000" stroke="none" stroke-width="0"/>
<rect x="549.60" y="571.60" width="6.00" height="6.00" fill="#000" stroke="none" stroke-width="0"/>
<rect x="593.28" y="403.40" width="6.00" height="6.00" fill="#000" stroke="none" stroke-width="0"/>
<rect x="607.84" y="329.00" width="6.00" height="6.00" fill="#000" stroke="none" stroke-width="0"/>
<polygon points="549.40,572.85 555.80,572.85 552.60,578.10" fill="#000" stroke="none" stroke-width="0" stroke-linejoin="round"/>
<polygon points="593.08,406.25 599.48,406.25 596.28,411.50" fill="#000" stroke="none" stroke-width="0" stroke-linejoin="round"/>
<polygon points="607.64,331.75 614.04,331.75 610.84,337.00" fill="#000" stroke="none" stroke-width="0" stroke-linejoin="round"/>
<rect x="596.3" y="312.3" width="58.1" height="260.7" fill="none" stroke="#f4a466" stroke-width="1.35"/>
<path d="M624.35,320.85 L624.35,319.5 A1.15,1.15 0 0 1 626.65,319.5 L626.65,320.85 L628.0,320.85 A1.15,1.15 0 0 1 628.0,323.15 L626.65,323.15 L626.25,326.4 L624.75,326.4 L624.35,323.15 L623.0,323.15 A1.15,1.15 0 0 1 623.0,320.85 Z" fill="#fff" stroke="#4a4a4a" stroke-width="0.95" stroke-linejoin="round"/>
<path d="M624.35,330.95000000000005 L624.35,329.6 A1.15,1.15 0 0 1 626.65,329.6 L626.65,330.95000000000005 L628.0,330.95000000000005 A1.15,1.15 0 0 1 628.0,333.25 L626.65,333.25 L626.25,336.5 L624.75,336.5 L624.35,333.25 L623.0,333.25 A1.15,1.15 0 0 1 623.0,330.95000000000005 Z" fill="#fff" stroke="#4a4a4a" stroke-width="0.95" stroke-linejoin="round"/>
<path d="M624.35,341.15000000000003 L624.35,339.8 A1.15,1.15 0 0 1 626.65,339.8 L626.65,341.15000000000003 L628.0,341.15000000000003 A1.15,1.15 0 0 1 628.0,343.45 L626.65,343.45 L626.25,346.7 L624.75,346.7 L624.35,343.45 L623.0,343.45 A1.15,1.15 0 0 1 623.0,341.15000000000003 Z" fill="#fff" stroke="#4a4a4a" stroke-width="0.95" stroke-linejoin="round"/>
<path d="M612.15,489.35 L612.15,488.0 A1.15,1.15 0 0 1 614.4499999999999,488.0 L614.4499999999999,489.35 L615.8,489.35 A1.15,1.15 0 0 1 615.8,491.65 L614.4499999999999,491.65 L614.05,494.9 L612.55,494.9 L612.15,491.65 L610.8,491.65 A1.15,1.15 0 0 1 610.8,489.35 Z" fill="#fff" stroke="#4a4a4a" stroke-width="0.95" stroke-linejoin="round"/>
<path d="M858.75,376.05 L858.75,374.7 A1.15,1.15 0 0 1 861.05,374.7 L861.05,376.05 L862.4,376.05 A1.15,1.15 0 0 1 862.4,378.34999999999997 L861.05,378.34999999999997 L860.65,381.59999999999997 L859.15,381.59999999999997 L858.75,378.34999999999997 L857.4,378.34999999999997 A1.15,1.15 0 0 1 857.4,376.05 Z" fill="#fff" stroke="#4a4a4a" stroke-width="0.95" stroke-linejoin="round"/>
<path d="M858.75,386.85 L858.75,385.5 A1.15,1.15 0 0 1 861.05,385.5 L861.05,386.85 L862.4,386.85 A1.15,1.15 0 0 1 862.4,389.15 L861.05,389.15 L860.65,392.4 L859.15,392.4 L858.75,389.15 L857.4,389.15 A1.15,1.15 0 0 1 857.4,386.85 Z" fill="#fff" stroke="#4a4a4a" stroke-width="0.95" stroke-linejoin="round"/>
<rect x="672.40" y="291.60" width="236.80" height="49.10" fill="#fff" stroke="#333" stroke-width="1.3"/>
<line x1="680" y1="304.2" x2="724" y2="304.2" stroke="#222" stroke-width="1" />
<circle cx="701.90" cy="304.20" r="3.3" fill="#fff" stroke="#222" stroke-width="1"/>
<line x1="680.1" y1="315.8" x2="686.3" y2="315.8" stroke="#222" stroke-width="1.3" />
<line x1="689.9" y1="315.8" x2="696" y2="315.8" stroke="#222" stroke-width="1.3" />
<line x1="708.4" y1="315.8" x2="714.6" y2="315.8" stroke="#222" stroke-width="1.3" />
<line x1="717.8" y1="315.8" x2="723.9" y2="315.8" stroke="#222" stroke-width="1.3" />
<rect x="699.20" y="313.10" width="5.40" height="5.40" fill="#fff" stroke="#222" stroke-width="1.05"/>
<line x1="680.1" y1="327.3" x2="688.7" y2="327.3" stroke="#222" stroke-width="1.3" />
<line x1="695.2" y1="327.3" x2="699.4" y2="327.3" stroke="#222" stroke-width="1.3" />
<line x1="709.8" y1="327.3" x2="717.8" y2="327.3" stroke="#222" stroke-width="1.3" />
<line x1="692.2" y1="327.3" x2="693.4000000000001" y2="327.3" stroke="#bbb" stroke-width="1.2" />
<line x1="721.4" y1="327.3" x2="722.6" y2="327.3" stroke="#bbb" stroke-width="1.2" />
<polygon points="698.90,325.23 705.30,325.23 702.10,330.83" fill="#fff" stroke="#222" stroke-width="1.05" stroke-linejoin="round"/>
<line x1="796.3" y1="304.2" x2="840.3" y2="304.2" stroke="#000" stroke-width="1" />
<circle cx="818.20" cy="304.20" r="3.3" fill="#000" stroke="#222" stroke-width="0"/>
<line x1="796.4" y1="315.8" x2="802.5999999999999" y2="315.8" stroke="#000" stroke-width="1.3" />
<line x1="806.1999999999999" y1="315.8" x2="812.3" y2="315.8" stroke="#000" stroke-width="1.3" />
<line x1="824.6999999999999" y1="315.8" x2="830.9" y2="315.8" stroke="#000" stroke-width="1.3" />
<line x1="834.0999999999999" y1="315.8" x2="840.1999999999999" y2="315.8" stroke="#000" stroke-width="1.3" />
<rect x="815.40" y="312.90" width="5.80" height="5.80" fill="#000" stroke="none" stroke-width="0"/>
<line x1="796.4" y1="327.3" x2="805.0" y2="327.3" stroke="#000" stroke-width="1.3" />
<line x1="811.5" y1="327.3" x2="815.6999999999999" y2="327.3" stroke="#000" stroke-width="1.3" />
<line x1="826.0999999999999" y1="327.3" x2="834.0999999999999" y2="327.3" stroke="#000" stroke-width="1.3" />
<line x1="808.5" y1="327.3" x2="809.7" y2="327.3" stroke="#bbb" stroke-width="1.2" />
<line x1="837.6999999999999" y1="327.3" x2="838.9" y2="327.3" stroke="#bbb" stroke-width="1.2" />
<polygon points="815.20,325.23 821.60,325.23 818.40,330.83" fill="#000" stroke="#222" stroke-width="0.4" stroke-linejoin="round"/>
<text x="736.2" y="307.9" font-family='"Liberation Sans", sans-serif' font-size="10.1" font-weight="normal" font-style="normal" fill="#111" text-anchor="start" textLength="48.6" lengthAdjust="spacing"  stroke="#111" stroke-width="0.22">Treated #1</text>
<text x="736.2" y="319.5" font-family='"Liberation Sans", sans-serif' font-size="10.1" font-weight="normal" font-style="normal" fill="#111" text-anchor="start" textLength="48.6" lengthAdjust="spacing"  stroke="#111" stroke-width="0.22">Treated #2</text>
<text x="736.2" y="331.0" font-family='"Liberation Sans", sans-serif' font-size="10.1" font-weight="normal" font-style="normal" fill="#111" text-anchor="start" textLength="48.6" lengthAdjust="spacing"  stroke="#111" stroke-width="0.22">Treated #3</text>
<text x="852.2" y="307.9" font-family='"Liberation Sans", sans-serif' font-size="10.1" font-weight="normal" font-style="normal" fill="#111" text-anchor="start" textLength="47.2" lengthAdjust="spacing"  stroke="#111" stroke-width="0.22">Control #4</text>
<text x="852.2" y="319.5" font-family='"Liberation Sans", sans-serif' font-size="10.1" font-weight="normal" font-style="normal" fill="#111" text-anchor="start" textLength="47.2" lengthAdjust="spacing"  stroke="#111" stroke-width="0.22">Control #5</text>
<text x="852.2" y="331.0" font-family='"Liberation Sans", sans-serif' font-size="10.1" font-weight="normal" font-style="normal" fill="#111" text-anchor="start" textLength="47.2" lengthAdjust="spacing"  stroke="#111" stroke-width="0.22">Control #6</text>
<text x="710.3" y="641.2" font-family='"Liberation Serif", serif' font-size="21" font-weight="bold" font-style="normal" fill="#000" text-anchor="start" >D</text>
</svg>
</body></html>
